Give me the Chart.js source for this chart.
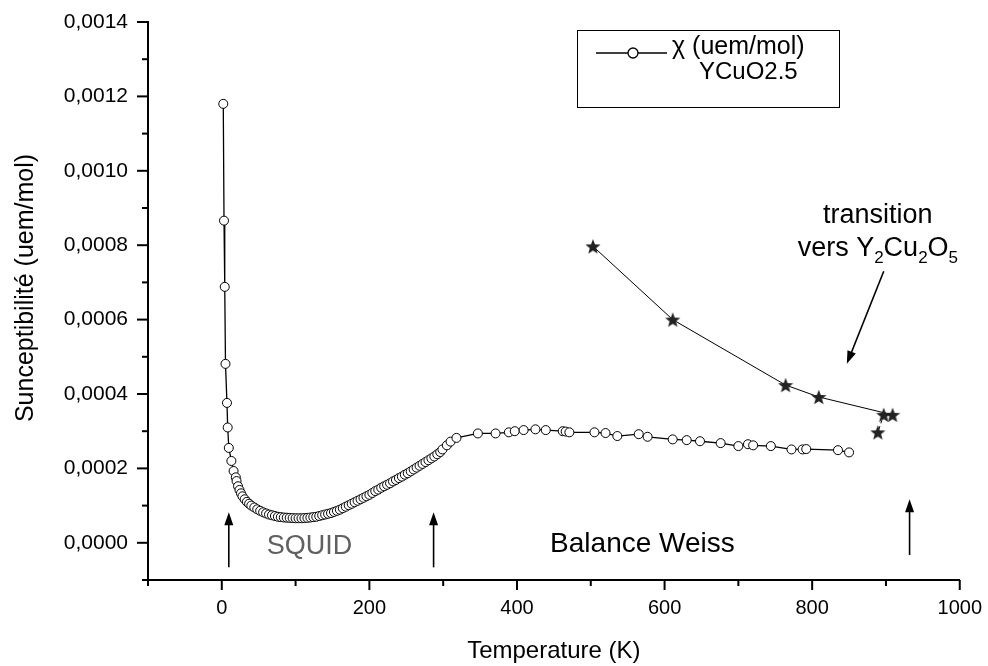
<!DOCTYPE html>
<html>
<head>
<meta charset="utf-8">
<script src="https://cdn.jsdelivr.net/npm/chart.js@4.4.0/dist/chart.umd.min.js"></script>
<style>
  html, body { margin: 0; padding: 0; background: #fff; }
  #wrap { width: 988px; height: 666px; }
</style>
</head>
<body>
<div id="wrap"><canvas id="chiChart"></canvas></div>
<script>
// chi (uem/mol) of YCuO2.5, SQUID + Weiss balance
var temperatures = [2, 3, 4, 5, 7, 8, 9.5, 13, 16, 19,
    20, 22, 24, 26, 28, 31, 34, 37, 40, 44, 48, 52, 56, 60, 64, 68, 72, 76, 80, 84, 88, 92, 96,
    100, 104, 108, 112, 116, 120, 124, 128, 132, 136, 140, 144, 148, 152, 156, 160, 164, 168,
    172, 176, 180, 184, 188, 192, 196, 200, 204, 208, 212, 216, 220, 224, 228, 232, 236, 240,
    244, 248, 252, 256, 260, 264, 268, 272, 276, 280, 284, 288, 292, 296, 299, 305, 310, 318,
    347, 371, 389, 397, 409, 425, 439, 462, 466, 471, 505, 520, 536, 565, 577, 611, 630, 648,
    676, 700, 713, 720, 744, 772, 787, 792, 835, 850];
var chiValues = [0.00118, 0.000866, 0.000688, 0.000481, 0.000376, 0.00031, 0.000255, 0.00022, 0.000193, 0.000176,
    0.000166, 0.000152, 0.000142, 0.000133, 0.000125, 0.000117, 0.00011, 0.000105, 0.0001, 0.000095,
    0.00009, 0.000086, 0.000082, 0.000079, 0.000076, 0.000074, 0.000072, 0.00007, 0.000069, 0.000068,
    0.0000675, 0.000067, 0.0000665, 0.000066, 0.000066, 0.000066, 0.0000665, 0.000067, 0.000068, 0.000069,
    0.00007, 0.000072, 0.000074, 0.000076, 0.000078, 0.00008, 0.000083, 0.000086, 0.000089, 0.000093,
    0.000097, 0.000101, 0.000105, 0.000109, 0.000113, 0.000117, 0.000121, 0.000125, 0.000129, 0.000134,
    0.000139, 0.000143, 0.000148, 0.000152, 0.000156, 0.00016, 0.000165, 0.000169, 0.000174, 0.000178,
    0.000183, 0.000187, 0.000192, 0.000197, 0.000202, 0.000207, 0.000212, 0.000217, 0.000222, 0.000227,
    0.000232, 0.000238, 0.000244, 0.000251, 0.000262, 0.000272, 0.000282,
    0.000294, 0.000294, 0.000297, 0.0003, 0.000303, 0.000305, 0.000303, 0.0003, 0.000299, 0.000297,
    0.000297, 0.000295, 0.000287, 0.000292, 0.000285, 0.000278, 0.000276, 0.000273, 0.000268, 0.00026,
    0.000265, 0.000262, 0.00026, 0.000251, 0.000251, 0.000252, 0.000249, 0.000243];

// stars: second run up to the Y2Cu2O5 transition
var starTemperatures = [503, 611, 764, 809, 909, 897, 889];
var starChi = [0.000797, 0.0006, 0.000424, 0.000392, 0.000344, 0.000344, 0.000297];

var xTickLabels = ['0', '200', '400', '600', '800', '1000'];
var yTickLabels = ['0,0000', '0,0002', '0,0004', '0,0006', '0,0008', '0,0010', '0,0012', '0,0014'];

var FONT = '"Liberation Sans", Arial, sans-serif';

function makeStar(r, color) {
    var size = Math.ceil(r * 2) + 2;
    var c = document.createElement('canvas');
    c.width = size;
    c.height = size;
    var g = c.getContext('2d');
    g.fillStyle = color;
    g.beginPath();
    for (var i = 0; i < 10; i++) {
        var rad = i % 2 === 0 ? r : r * 0.42;
        var a = -Math.PI / 2 + i * Math.PI / 5;
        var px = size / 2 + rad * Math.cos(a);
        var py = size / 2 + rad * Math.sin(a) + 0.8;
        if (i === 0) g.moveTo(px, py); else g.lineTo(px, py);
    }
    g.closePath();
    g.fill();
    return c;
}

function drawArrow(ctx, x1, y1, x2, y2) {
    var ang = Math.atan2(y2 - y1, x2 - x1);
    var hl = 13, hw = 4.5;
    ctx.save();
    ctx.strokeStyle = '#000';
    ctx.fillStyle = '#000';
    ctx.lineWidth = 1.6;
    ctx.beginPath();
    ctx.moveTo(x1, y1);
    ctx.lineTo(x2 - Math.cos(ang) * hl * 0.8, y2 - Math.sin(ang) * hl * 0.8);
    ctx.stroke();
    ctx.beginPath();
    ctx.moveTo(x2, y2);
    ctx.lineTo(x2 - hl * Math.cos(ang) + hw * Math.sin(ang), y2 - hl * Math.sin(ang) - hw * Math.cos(ang));
    ctx.lineTo(x2 - hl * Math.cos(ang) - hw * Math.sin(ang), y2 - hl * Math.sin(ang) + hw * Math.cos(ang));
    ctx.closePath();
    ctx.fill();
    ctx.restore();
}

// text with subscripts, runs = [[text, isSub], ...], centred on x
function drawRuns(ctx, x, y, runs, size) {
    var big = size + 'px ' + FONT;
    var small = Math.round(size * 0.62) + 'px ' + FONT;
    var total = 0;
    runs.forEach(function(r) {
        ctx.font = r[1] ? small : big;
        total += ctx.measureText(r[0]).width;
    });
    var cx = x - total / 2;
    ctx.textAlign = 'left';
    ctx.textBaseline = 'alphabetic';
    runs.forEach(function(r) {
        ctx.font = r[1] ? small : big;
        ctx.fillText(r[0], cx, r[1] ? y + size * 0.28 : y);
        cx += ctx.measureText(r[0]).width;
    });
}

var arrowsUp = [
    { t: 9.5, from: -0.000066, to: 0.000082 },
    { t: 287, from: -0.000066, to: 0.000082 },
    { t: 932, from: -0.000033, to: 0.000117 }
];

var annotationPlugin = {
    id: 'annotations',
    afterDraw: function(chart) {
        var ctx = chart.ctx;
        var xs = chart.scales.x, ys = chart.scales.y;
        var area = chart.chartArea;

        // tick marks, long for labelled, short for the others
        ctx.save();
        ctx.strokeStyle = '#000';
        ctx.lineWidth = 2;
        xs.ticks.forEach(function(t) {
            var px = xs.getPixelForValue(t.value);
            var major = Math.round(t.value) % 200 === 0;
            ctx.beginPath();
            ctx.moveTo(px, area.bottom);
            ctx.lineTo(px, area.bottom + (major ? 10 : 6));
            ctx.stroke();
        });
        ys.ticks.forEach(function(t) {
            var py = ys.getPixelForValue(t.value);
            var major = Math.round(t.value * 1e4) % 2 === 0;
            ctx.beginPath();
            ctx.moveTo(area.left, py);
            ctx.lineTo(area.left - (major ? 11 : 6), py);
            ctx.stroke();
        });
        ctx.restore();

        arrowsUp.forEach(function(a) {
            var px = xs.getPixelForValue(a.t);
            drawArrow(ctx, px, ys.getPixelForValue(a.from), px, ys.getPixelForValue(a.to));
        });
        drawArrow(ctx, xs.getPixelForValue(897), ys.getPixelForValue(0.00073),
            xs.getPixelForValue(847), ys.getPixelForValue(0.000481));

        ctx.save();
        // y axis title
        ctx.save();
        ctx.translate(26, 288);
        ctx.rotate(-Math.PI / 2);
        ctx.textAlign = 'center';
        ctx.textBaseline = 'middle';
        ctx.fillStyle = '#000';
        ctx.font = '25px ' + FONT;
        ctx.fillText('Sunceptibilit\u00e9 (uem/mol)', 0, 0);
        ctx.restore();

        ctx.textAlign = 'center';
        ctx.textBaseline = 'middle';
        ctx.fillStyle = '#606060';
        ctx.font = '27px ' + FONT;
        ctx.fillText('SQUID', xs.getPixelForValue(119), ys.getPixelForValue(-0.000011));
        ctx.fillStyle = '#000';
        ctx.font = '28px ' + FONT;
        ctx.fillText('Balance Weiss', xs.getPixelForValue(570), ys.getPixelForValue(-0.000005));
        ctx.font = '27px ' + FONT;
        ctx.fillText('transition', xs.getPixelForValue(889), ys.getPixelForValue(0.000881));
        drawRuns(ctx, xs.getPixelForValue(889), ys.getPixelForValue(0.000772),
            [['vers Y', false], ['2', true], ['Cu', false], ['2', true], ['O', false], ['5', true]], 27);

        // legend box
        ctx.strokeStyle = '#000';
        ctx.lineWidth = 1;
        ctx.strokeRect(577.5, 30.5, 262, 77);
        ctx.lineWidth = 1.3;
        ctx.beginPath();
        ctx.moveTo(596, 53);
        ctx.lineTo(667, 53);
        ctx.stroke();
        ctx.beginPath();
        ctx.arc(633, 53, 5, 0, Math.PI * 2);
        ctx.fillStyle = '#fff';
        ctx.fill();
        ctx.stroke();
        ctx.fillStyle = '#000';
        ctx.font = '25px ' + FONT;
        ctx.textAlign = 'left';
        ctx.fillText('\u03c7 (uem/mol)', 672, 54);
        ctx.font = '24px ' + FONT;
        ctx.fillText('YCuO2.5', 699, 79);
        ctx.restore();
    }
};

var ctx = document.getElementById('chiChart').getContext('2d');
new Chart(ctx, {
    type: 'line',
    data: {
        datasets: [{
            label: '\u03c7 (uem/mol)',
            data: temperatures.map(function(t, i) { return { x: t, y: chiValues[i] }; }),
            borderColor: '#000',
            borderWidth: 1.3,
            pointStyle: 'circle',
            pointRadius: 4.5,
            pointBorderWidth: 1,
            pointBorderColor: '#000',
            pointBackgroundColor: '#fff',
            tension: 0
        }, {
            label: 'transition',
            data: starTemperatures.map(function(t, i) { return { x: t, y: starChi[i] }; }),
            borderColor: '#000',
            borderWidth: 1,
            pointStyle: makeStar(8, '#222'),
            pointRadius: 7,
            tension: 0,
            segment: {
                borderDash: function(c) { return c.p0DataIndex === 5 ? [3, 3] : undefined; }
            }
        }]
    },
    options: {
        responsive: true,
        maintainAspectRatio: false,
        animation: false,
        layout: { padding: { left: 0, right: 28, top: 22, bottom: 0 } },
        plugins: {
            legend: { display: false },
            tooltip: { enabled: false }
        },
        scales: {
            x: {
                type: 'linear',
                min: -100,
                max: 1000,
                afterFit: function(s) { s.height = 86; },
                ticks: {
                    stepSize: 100,
                    autoSkip: false,
                    maxRotation: 0,
                    color: '#000',
                    padding: 6,
                    font: { family: FONT, size: 20 },
                    callback: function(v) {
                        var s = String(Math.round(v));
                        return xTickLabels.indexOf(s) >= 0 ? s : '';
                    }
                },
                grid: { drawOnChartArea: false, drawTicks: true, tickLength: 10, color: 'rgba(0,0,0,0)' },
                border: { display: true, color: '#000', width: 2 },
                title: {
                    display: true,
                    text: 'Temperature (K)',
                    color: '#000',
                    font: { family: FONT, size: 24 },
                    padding: { top: 0, bottom: 0 }
                }
            },
            y: {
                min: -0.0001,
                max: 0.0014,
                afterFit: function(s) { s.width = 148; },
                ticks: {
                    stepSize: 0.0001,
                    autoSkip: false,
                    color: '#000',
                    padding: 9,
                    font: { family: FONT, size: 21 },
                    callback: function(v) {
                        var s = (Math.round(v * 1e4) / 1e4).toFixed(4).replace('.', ',');
                        return yTickLabels.indexOf(s) >= 0 ? s : '';
                    }
                },
                grid: { drawOnChartArea: false, drawTicks: true, tickLength: 11, color: 'rgba(0,0,0,0)' },
                border: { display: true, color: '#000', width: 2 },
                title: { display: false }
            }
        }
    },
    plugins: [annotationPlugin]
});
</script>
</body>
</html>
